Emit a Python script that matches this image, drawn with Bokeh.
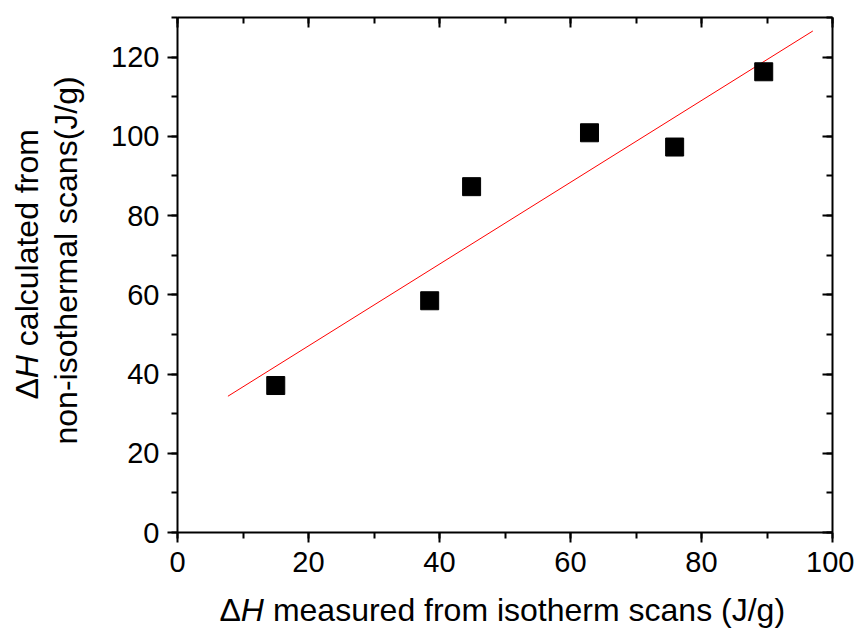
import math
from bokeh.plotting import figure
from bokeh.models import LinearAxis, SingleIntervalTicker, Label, Range1d
from bokeh.embed import file_html
from bokeh.resources import INLINE

# Data
measured = [15.0, 38.5, 44.9, 62.9, 75.9, 89.5]
calculated = [37.1, 58.5, 87.3, 100.9, 97.3, 116.3]
fit_x = [7.7, 97.0]
fit_y = [34.4, 126.6]

FONT = "Liberation Sans"
TICK_FS = "29px"
LAB_FS = 32

W, H = 854, 633
p = figure(width=W, height=H, output_backend="svg", toolbar_location=None,
           x_range=Range1d(0, 100), y_range=Range1d(0, 130),
           min_border_left=177, min_border_right=22, min_border_top=17,
           min_border_bottom=100, x_axis_location=None, y_axis_location=None)
p.grid.visible = False
p.outline_line_color = None
p.background_fill_color = "white"
p.border_fill_color = "white"

def make_axis(interval, outer=True, labels=True, standoff=8):
    ax = LinearAxis(ticker=SingleIntervalTicker(interval=interval, num_minor_ticks=2))
    ax.axis_line_width = 2
    ax.axis_line_color = "black"
    ax.major_tick_line_width = 2
    ax.minor_tick_line_width = 2
    ax.major_tick_line_color = "black"
    ax.minor_tick_line_color = "black"
    if outer:
        ax.major_tick_out = 10
        ax.major_tick_in = 0
        ax.minor_tick_out = 6
        ax.minor_tick_in = 0
    else:
        ax.major_tick_out = 0
        ax.major_tick_in = 10
        ax.minor_tick_out = 0
        ax.minor_tick_in = 6
    if labels:
        ax.major_label_text_font = FONT
        ax.major_label_text_font_size = TICK_FS
        ax.major_label_text_color = "black"
        ax.major_label_standoff = standoff
    else:
        ax.major_label_text_font_size = "1px"
        ax.major_label_text_color = None
        ax.major_label_standoff = 0
    return ax

p.add_layout(make_axis(20, True, True, 9), "below")
p.add_layout(make_axis(20, True, True, 8), "left")
p.add_layout(make_axis(20, False, False), "above")
p.add_layout(make_axis(20, False, False), "right")

p.line(fit_x, fit_y, line_color="red", line_width=1)
p.scatter(measured, calculated, marker="square", size=18, fill_color="black",
          line_color="black")

fs = f"{LAB_FS}px"
def lab(text, xo, yo, side, angle=0.0, style="normal"):
    p.add_layout(Label(x=0, y=0, x_offset=xo, y_offset=yo, text=text,
                       angle=angle, text_font=FONT, text_font_size=fs,
                       text_font_style=style, text_color="black",
                       text_align="left", text_baseline="alphabetic"), side)

EMSP = "\u2003"   # gap that holds the italic H plus the following space
# x axis label
x0, yb = 42, -77
lab("\u0394" + EMSP + "measured from isotherm scans (J/g)", x0, yb, "below")
lab("H", x0 + 0.667 * LAB_FS, yb, "left", style="italic")

# y axis label (two lines, rotated)
a = math.pi / 2
xl1, y1 = -151, 133
lab("\u0394" + EMSP + "calculated from", xl1, y1, "left", a)
lab("H", xl1, y1 + 0.667 * LAB_FS, "below", a, style="italic")
lab("non-isothermal scans(J/g)", -112, 88, "left", a)

open("out.html", "w").write(file_html(p, INLINE))
